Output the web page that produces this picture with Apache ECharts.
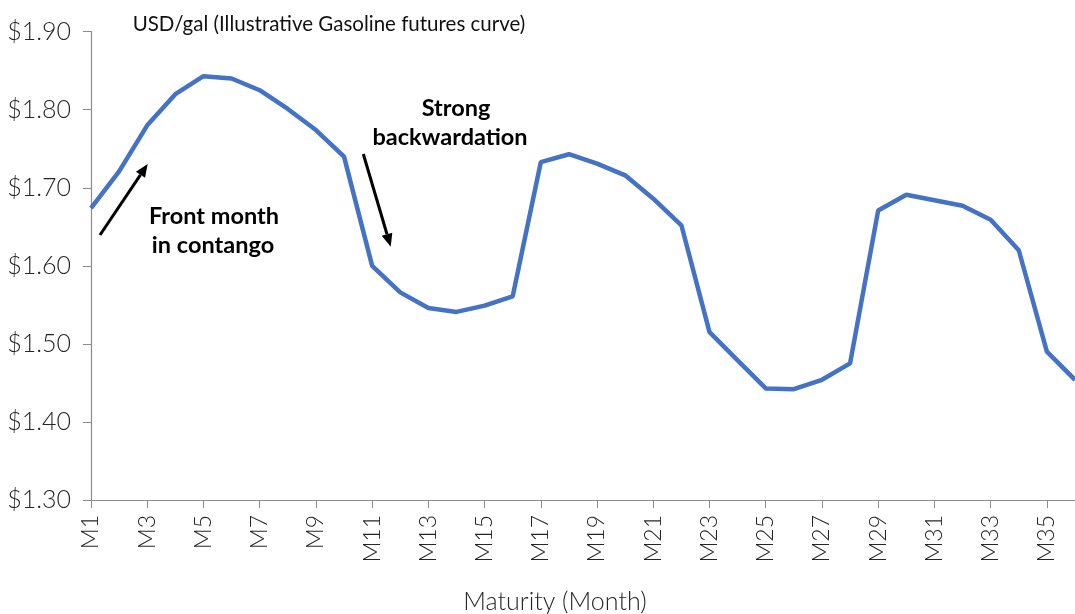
<!DOCTYPE html>
<html>
<head>
<meta charset="utf-8">
<script src="https://cdn.jsdelivr.net/npm/echarts@6/dist/echarts.min.js"></script>
<style>
html,body{margin:0;padding:0;background:#fff;}
#chart{width:1075px;height:614px;}
</style>
</head>
<body>
<div id="chart"></div>
<script>
// ---- data ----
var months = [];
for (var i = 1; i <= 36; i++) months.push('M' + i);
var prices = [1.674, 1.721, 1.780, 1.820, 1.843, 1.840, 1.825, 1.801, 1.774, 1.740,
              1.600, 1.566, 1.546, 1.541, 1.549, 1.561, 1.733, 1.743, 1.731, 1.716,
              1.686, 1.652, 1.515, 1.479, 1.443, 1.442, 1.454, 1.475, 1.671, 1.691,
              1.684, 1.677, 1.659, 1.620, 1.490, 1.454];
var yTicks = [1.30, 1.40, 1.50, 1.60, 1.70, 1.80, 1.90];
var titleText = 'USD/gal (Illustrative Gasoline futures curve)';
var xAxisTitle = 'Maturity (Month)';
var note1 = ['Front month', 'in contango'];
var note2 = ['Strong', 'backwardation'];

var chart = echarts.init(document.getElementById('chart'));
var labelFont = 'Lato, "DejaVu Sans", sans-serif';
var axisColor = '#8c8c8c';

function arrow(x1, y1, x2, y2) {
  var dx = x2 - x1, dy = y2 - y1, len = Math.sqrt(dx*dx + dy*dy);
  var ux = dx/len, uy = dy/len, hl = 13, hw = 5.5;
  var bx = x2 - ux*hl, by = y2 - uy*hl;
  return [
    {type:'line', shape:{x1:x1, y1:y1, x2:bx, y2:by}, style:{stroke:'#000', lineWidth:3}},
    {type:'polygon', shape:{points:[[x2,y2],[bx - uy*hw, by + ux*hw],[bx + uy*hw, by - ux*hw]]}, style:{fill:'#000'}}
  ];
}

var boldText = {fontFamily:'Lato, "Open Sans", sans-serif', fontWeight:'bold', fontSize:23.5, fill:'#000', textAlign:'center', textVerticalAlign:'middle'};

chart.setOption({
  animation:false,
  grid:{left:91, right:-8, top:31.7, bottom:114},
  xAxis:{
    type:'category', data:months, boundaryGap:false,
    axisLine:{lineStyle:{color:axisColor, width:1.2}},
    axisTick:{alignWithLabel:true, interval:1, length:8, lineStyle:{color:axisColor}},
    axisLabel:{interval:1, rotate:90, color:'#262626', fontSize:23, fontFamily:labelFont, fontWeight:300, margin:15}
  },
  yAxis:{
    type:'value', min:yTicks[0], max:yTicks[yTicks.length-1], interval:0.1,
    axisLine:{show:true, lineStyle:{color:axisColor, width:1.2}},
    axisTick:{show:true, length:8, lineStyle:{color:axisColor}},
    splitLine:{show:false},
    axisLabel:{color:'#262626', fontSize:25, fontFamily:labelFont, fontWeight:300, margin:20,
      formatter:function(v){return '$' + v.toFixed(2);}}
  },
  series:[{
    type:'line', data:prices, symbol:'none', clip:false,
    lineStyle:{color:'#4472C4', width:4.5}
  }],
  graphic:[
    {type:'text', x:329, y:24, style:{text:titleText, fontFamily:'Lato, "Open Sans", sans-serif', fontSize:20.5, fill:'#111', textAlign:'center', textVerticalAlign:'middle'}},
    {type:'text', x:555, y:602, style:{text:xAxisTitle, fontFamily:labelFont, fontWeight:300, fontSize:25, fill:'#262626', textAlign:'center', textVerticalAlign:'middle'}},
    {type:'text', x:214, y:216, style:Object.assign({text:note1[0]}, boldText)},
    {type:'text', x:213, y:245, style:Object.assign({text:note1[1]}, boldText)},
    {type:'text', x:456, y:108, style:Object.assign({text:note2[0]}, boldText)},
    {type:'text', x:450, y:137, style:Object.assign({text:note2[1]}, boldText)}
  ].concat(arrow(100,235,147.7,164)).concat(arrow(363.3,154,390.7,246.7))
});
</script>
</body>
</html>
